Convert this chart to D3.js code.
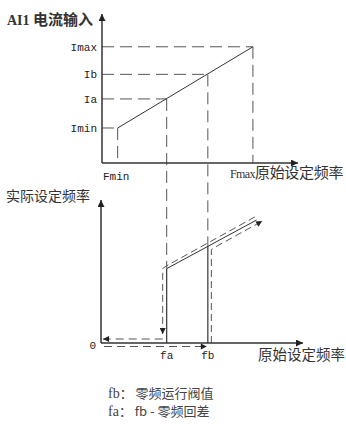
<!DOCTYPE html>
<head>
  <meta charset="utf-8">
  <script src="https://d3js.org/d3.v7.min.js"></script>
  <style>
    body { margin: 0; background: #fff; }
    svg { display: block; }
  </style>
</head>
<body>
  <div class="chart"></div>
  <script>
    // frequency marks shared by both plots
    var freqNames = ["Fmin", "fa", "fb", "Fmax"];
    var freqValues = [8, 33, 54, 77];
    // current marks (top plot)
    var currentNames = ["Imin", "Ia", "Ib", "Imax"];
    var currentValues = [23.5, 43, 59.5, 78];
    // output line in the bottom plot: [input freq, actual freq]
    var outputLine = [[33, 52], [77, 86]];
    var noteKeys = ["fb：", "fa："];
    var noteTexts = ["零频运行阀值", "fb - 零频回差"];

    (function() {
      var width = 346, height = 432;
      var axisColor = "#333", dashColor = "#555";

      var svg = d3.select(".chart").append("svg")
        .attr("width", width).attr("height", height);

      var defs = svg.append("defs");
      function marker(id, w, h) {
        defs.append("marker")
          .attr("id", id)
          .attr("viewBox", "0 0 10 10")
          .attr("refX", 10).attr("refY", 5)
          .attr("markerUnits", "userSpaceOnUse")
          .attr("markerWidth", w).attr("markerHeight", h)
          .attr("orient", "auto")
          .append("path")
          .attr("d", "M0,0L10,5L0,10Z")
          .attr("fill", "#222");
      }
      marker("axisArrow", 9, 7);
      marker("smallArrow", 7, 6);

      var x = d3.scaleLinear().domain([0, 100]).range([102, 298]);
      var yTop = d3.scaleLinear().domain([0, 100]).range([163, 14]);
      var xB = d3.scaleLinear().domain([0, 100]).range([101, 303]);
      var yBot = d3.scaleLinear().domain([0, 100]).range([343, 200]);

      var fv = {};
      freqNames.forEach(function(n, i) { fv[n] = freqValues[i]; });
      var cv = {};
      currentNames.forEach(function(n, i) { cv[n] = currentValues[i]; });

      function seg(g, x1, y1, x2, y2) {
        return g.append("line")
          .attr("x1", x1).attr("y1", y1).attr("x2", x2).attr("y2", y2);
      }
      function outAt(f) {
        var a = outputLine[0], b = outputLine[1];
        return a[1] + (f - a[0]) * (b[1] - a[1]) / (b[0] - a[0]);
      }

      // ---------- top plot ----------
      var top = svg.append("g");

      // dashed guides
      var pairs = [["Fmin", "Imin"], ["fa", "Ia"], ["fb", "Ib"], ["Fmax", "Imax"]];
      pairs.forEach(function(p) {
        var px = x(fv[p[0]]), py = yTop(cv[p[1]]);
        seg(top, x(0), py, px, py).attr("stroke", dashColor).attr("stroke-dasharray", "12,6");
        var bottomY = (p[0] === "fa" || p[0] === "fb") ? yBot(outAt(fv[p[0]])) : yTop(0);
        seg(top, px, py, px, bottomY).attr("stroke", dashColor).attr("stroke-dasharray", "12,6");
      });

      // current vs frequency line
      top.append("path")
        .datum([[fv.Fmin, cv.Imin], [fv.Fmax, cv.Imax]])
        .attr("d", d3.line().x(function(d) { return x(d[0]); }).y(function(d) { return yTop(d[1]); }))
        .attr("stroke", axisColor).attr("stroke-width", 1).attr("fill", "none");

      // axes
      seg(top, x(0), yTop(0), x(0), yTop(100)).attr("stroke", axisColor).attr("stroke-width", 1.5)
        .attr("marker-end", "url(#axisArrow)");
      seg(top, x(0), yTop(0), x(100), yTop(0)).attr("stroke", axisColor).attr("stroke-width", 1.5)
        .attr("marker-end", "url(#axisArrow)");

      top.selectAll(".ilabel")
        .data(currentNames)
        .enter().append("text")
        .attr("x", 97)
        .attr("y", function(d) { return yTop(cv[d]); })
        .attr("dy", "0.35em")
        .attr("text-anchor", "end")
        .attr("font-family", "Liberation Mono")
        .attr("font-size", 11)
        .attr("fill", "#222")
        .text(function(d) { return d; });

      top.append("text")
        .attr("x", 103).attr("y", 176).attr("dy", "0.35em")
        .attr("font-family", "Liberation Mono").attr("font-size", 11).attr("fill", "#222")
        .text("Fmin");

      var fmaxLabel = top.append("text")
        .attr("x", 230).attr("y", 172).attr("dy", "0.35em")
        .attr("fill", "#333");
      fmaxLabel.append("tspan").attr("font-family", "Liberation Serif").attr("font-size", 12)
        .attr("letter-spacing", "-0.6").text("Fmax");
      fmaxLabel.append("tspan").attr("font-family", "Noto Sans CJK SC").attr("font-size", 15)
        .attr("letter-spacing", "-0.3").text("原始设定频率");

      var title = top.append("text")
        .attr("x", 7).attr("y", 19).attr("dy", "0.35em")
        .attr("fill", "#333").attr("font-weight", "bold");
      title.append("tspan").attr("font-family", "Liberation Serif").attr("font-size", 14).text("AI1 ");
      title.append("tspan").attr("font-family", "Noto Sans CJK SC").attr("font-size", 15).text("电流输入");

      // ---------- bottom plot ----------
      var bot = svg.append("g");
      var p0 = [x(fv.fa), yBot(outputLine[0][1])];
      var p1 = [xB(outputLine[1][0]), yBot(outputLine[1][1])];
      var dx = p1[0] - p0[0], dy = p1[1] - p0[1], len = Math.sqrt(dx * dx + dy * dy);
      var nx = -dy / len, ny = dx / len; // normal pointing down-right
      var off = 3.5;

      // solid output line and jumps
      bot.append("path")
        .attr("d", "M" + p0[0] + "," + p0[1] + "L" + p1[0] + "," + p1[1])
        .attr("stroke", axisColor).attr("stroke-width", 1).attr("fill", "none");
      seg(bot, x(fv.fa), yBot(0), x(fv.fa), p0[1]).attr("stroke", axisColor).attr("stroke-width", 1.2);
      seg(bot, x(fv.fb), yBot(0), x(fv.fb), yBot(outAt(fv.fb))).attr("stroke", axisColor).attr("stroke-width", 1.2);

      // rising path (below / right)
      var rx = x(fv.fb) + 3.5;
      var ry = p0[1] + (rx - p0[0]) * dy / dx;
      seg(bot, xB(0) + 3, yBot(0) + 3.5, x(fv.fb) - 1, yBot(0) + 3.5)
        .attr("stroke", dashColor).attr("stroke-dasharray", "8,5").attr("marker-end", "url(#smallArrow)");
      bot.append("path")
        .attr("d", "M" + rx + "," + yBot(0) + "L" + rx + "," + (ry + off * ny + 2) +
          "L" + (rx + 3) + "," + (ry + off * ny) +
          "L" + (p1[0] + off * nx + 4) + "," + (p1[1] + off * ny - 2))
        .attr("stroke", dashColor).attr("fill", "none").attr("stroke-dasharray", "7,4")
        .attr("marker-end", "url(#smallArrow)");

      // falling path (above / left)
      var lx = x(fv.fa) - 4;
      bot.append("path")
        .attr("d", "M" + (p1[0] - off * nx) + "," + (p1[1] - off * ny) +
          "L" + (p0[0] - off * nx + 2) + "," + (p0[1] - off * ny) +
          "L" + lx + "," + (p0[1] - off * ny + 3) +
          "L" + lx + "," + (yBot(0) - 9))
        .attr("stroke", dashColor).attr("fill", "none").attr("stroke-dasharray", "7,4")
        .attr("marker-end", "url(#smallArrow)");
      seg(bot, lx, yBot(0) - 4, xB(0) + 2, yBot(0) - 4)
        .attr("stroke", dashColor).attr("stroke-dasharray", "8,5").attr("marker-end", "url(#smallArrow)");

      // axes
      seg(bot, xB(0), yBot(0), xB(0), yBot(100)).attr("stroke", axisColor).attr("stroke-width", 1.5)
        .attr("marker-end", "url(#axisArrow)");
      seg(bot, xB(0), yBot(0), xB(100), yBot(0)).attr("stroke", axisColor).attr("stroke-width", 1.5)
        .attr("marker-end", "url(#axisArrow)");

      bot.append("text")
        .attr("x", 96).attr("y", yBot(0) + 2).attr("dy", "0.35em").attr("text-anchor", "end")
        .attr("font-family", "Liberation Mono").attr("font-size", 11).attr("fill", "#222")
        .text("0");

      bot.selectAll(".flabel")
        .data(["fa", "fb"])
        .enter().append("text")
        .attr("x", function(d) { return x(fv[d]); })
        .attr("y", 355).attr("dy", "0.35em").attr("text-anchor", "middle")
        .attr("font-family", "Liberation Mono").attr("font-size", 11).attr("fill", "#222")
        .text(function(d) { return d; });

      bot.append("text")
        .attr("x", 345).attr("y", 355).attr("dy", "0.35em").attr("text-anchor", "end")
        .attr("font-family", "Noto Sans CJK SC").attr("font-size", 14.5).attr("fill", "#333")
        .text("原始设定频率");

      bot.append("text")
        .attr("x", 6).attr("y", 196).attr("dy", "0.35em")
        .attr("font-family", "Noto Sans CJK SC").attr("font-size", 14).attr("fill", "#333")
        .text("实际设定频率");

      // notes
      var note = svg.selectAll(".note")
        .data(noteKeys)
        .enter().append("text")
        .attr("x", 108)
        .attr("y", function(d, i) { return 392 + i * 18; })
        .attr("dy", "0.35em")
        .attr("fill", "#444");
      note.append("tspan").attr("font-family", "Liberation Serif").attr("font-size", 14)
        .text(function(d) { return d.slice(0, 2); });
      note.append("tspan").attr("font-family", "Noto Sans CJK SC").attr("font-size", 13)
        .text(function(d) { return d.slice(2) + " "; });
      note.append("tspan").attr("font-family", "Noto Sans CJK SC").attr("font-size", 13)
        .text(function(d, i) { return noteTexts[i]; });
    })();
  </script>
</body>
